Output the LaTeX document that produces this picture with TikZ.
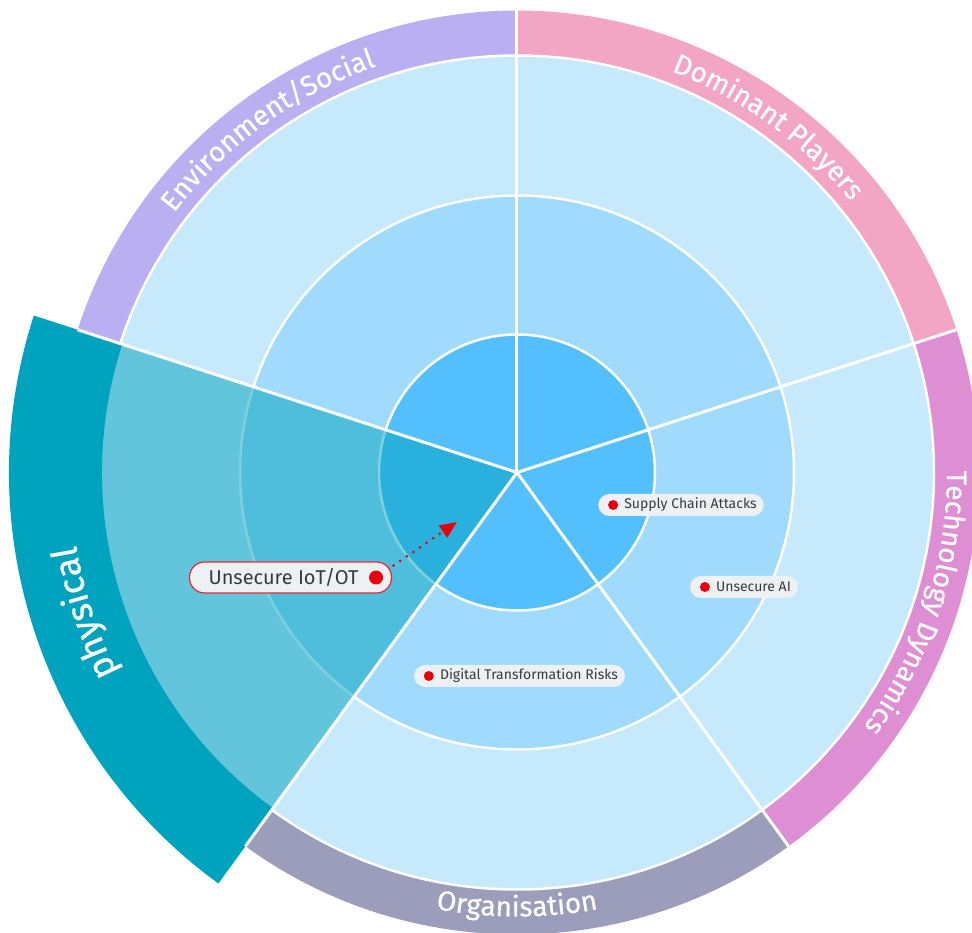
\documentclass[tikz,border=0pt]{standalone}
\usepackage{fontspec}
\setmainfont{Fira Sans}
\newfontfamily\bandface{Fira Sans}[FakeBold=0.6]
\usetikzlibrary{arrows.meta,decorations.text}
\definecolor{ringout}{HTML}{C6E9FC}
\definecolor{ringmid}{HTML}{A0DAFD}
\definecolor{ringin}{HTML}{53BFFC}
\definecolor{phys}{HTML}{00A3BE}
\definecolor{envlav}{HTML}{B9AFF1}
\definecolor{dompink}{HTML}{F3A6C3}
\definecolor{techorchid}{HTML}{DE8FD3}
\definecolor{orgslate}{HTML}{9C9DBA}
\definecolor{pill}{HTML}{EEF1F4}
\definecolor{alert}{HTML}{E8000B}
\definecolor{ink}{HTML}{3A3A3A}
\newcommand{\bandfont}{\bandface\fontsize{28}{28}\selectfont}
\newcommand{\physfont}{\bandface\fontsize{36}{36}\selectfont}
\tikzset{
  ring/.style={fill=#1,draw=white,line width=2.5pt},
  spoke/.style={draw=white,line width=3pt},
  bandlbl/.style={decorate,decoration={text along path,
                  text={|\bandfont|#1},text color=white,text align=center}},
  physlbl/.style={decorate,decoration={text along path,
                  text={|\physfont|#1},text color=white,text align=center}},
  blip/.style={rectangle,rounded corners=11pt,fill=pill,text=ink,
               font=\fontsize{14}{14}\selectfont,minimum height=22pt,
               inner xsep=7pt,inner ysep=0pt,
               execute at begin node={\hspace{19pt}}},
  focus/.style={rectangle,rounded corners=15pt,fill=pill,draw=alert!85,
                line width=1.2pt,text=ink,font=\fontsize{20}{20}\selectfont,
                minimum height=31pt,inner xsep=0pt,inner ysep=0pt,
                execute at begin node={\hspace{19pt}},
                execute at end node={\hspace{33pt}}},
  dot/.style={circle,fill=alert,inner sep=0pt,minimum size=10pt},
  bigdot/.style={circle,fill=alert,inner sep=0pt,minimum size=14pt},
  pointer/.style={alert,line width=3pt,line cap=round,
                  dash pattern=on 0pt off 8pt,shorten <=14pt,
                  -{Triangle[length=17pt,width=14pt]}},
}

\begin{document}
\begin{tikzpicture}[x=1pt,y=1pt]
  \useasboundingbox (-517,-460.5) rectangle (455,472.5);

  % category bands
  \foreach \a/\b/\c in {18/90/dompink,90/162/envlav,
                        234/306/orgslate,306/378/techorchid}
    \fill[\c] (0,0) -- (\a:462pt) arc[start angle=\a,end angle=\b,radius=462pt] -- cycle;

  % horizon rings
  \draw[ring=ringout] (0,0) circle[radius=417pt];
  \draw[ring=ringmid] (0,0) circle[radius=277pt];
  \draw[ring=ringin]  (0,0) circle[radius=138pt];

  % selected sector
  \fill[phys,opacity=0.5] (0,0) -- (162:416pt)
    arc[start angle=162,end angle=234,radius=416pt] -- cycle;
  \fill[phys] (162:415pt) arc[start angle=162,end angle=234,radius=415pt]
    -- (234:508pt) arc[start angle=234,end angle=162,radius=508pt] -- cycle;

  \foreach \a in {18,90,162,234,306}
    \draw[spoke] (0,0) -- (\a:462pt);

  % band titles
  \path[bandlbl=Environment/Social] (162:430pt) arc[start angle=162,end angle=90,radius=430pt];
  \path[bandlbl=Dominant Players] (90:430pt) arc[start angle=90,end angle=18,radius=430pt];
  \path[bandlbl=Technology Dynamics] (18:430pt) arc[start angle=18,end angle=-54,radius=430pt];
  \path[bandlbl=Organisation] (-126:444pt) arc[start angle=-126,end angle=-54,radius=444pt];
  \path[physlbl=physical] (234:447pt) arc[start angle=234,end angle=162,radius=447pt];

  % trends
  \node[blip] (sca) at (164,-32.5) {Supply Chain Attacks};
  \node[blip] (uai) at (227,-114.5) {Unsecure AI};
  \node[blip] (dtr) at (2.5,-203.5) {Digital Transformation Risks};
  \foreach \n in {sca,uai,dtr}
    \node[dot] (\n-dot) at ([xshift=15pt]\n.west) {};

  \node[focus] (iot) at (-226.5,-105) {Unsecure IoT/OT};
  \node[bigdot] (iot-dot) at ([xshift=-16pt]iot.east) {};
  \coordinate (iot-tip) at (-60,-49.5);
  \draw[pointer] (iot-dot) -- (iot-tip);
\end{tikzpicture}
\end{document}
